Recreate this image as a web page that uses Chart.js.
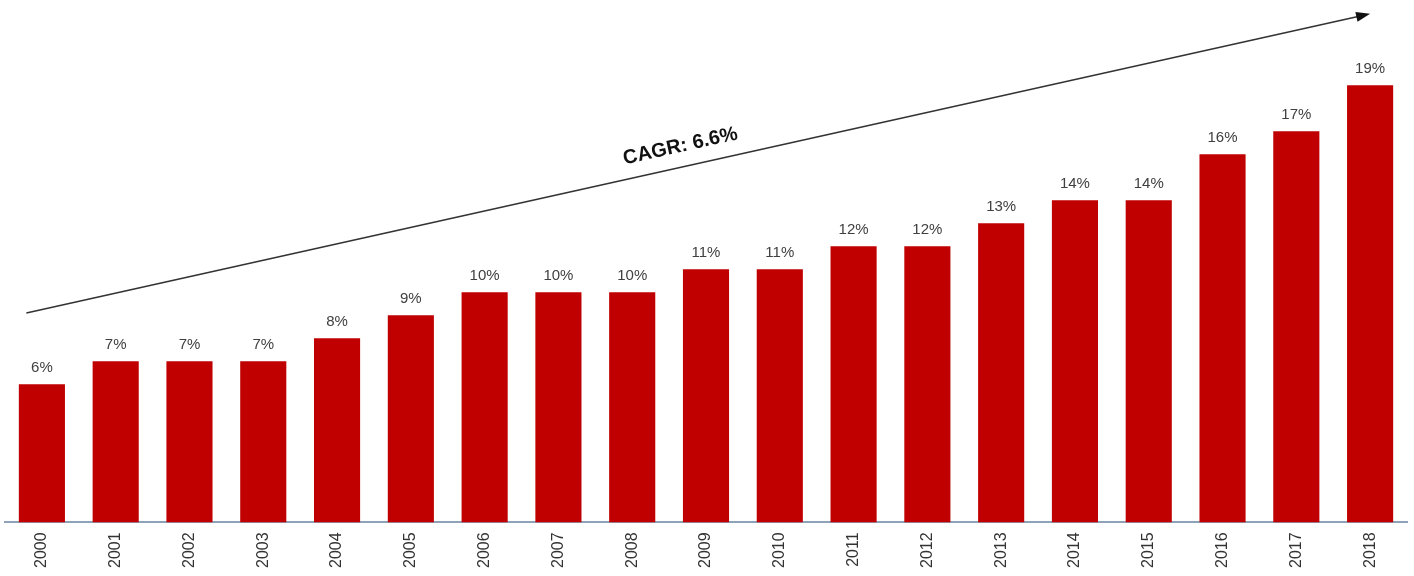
<!DOCTYPE html>
<html>
<head>
<meta charset="utf-8">
<script src="https://cdn.jsdelivr.net/npm/chart.js@4/dist/chart.umd.min.js"></script>
<style>
  html, body { margin: 0; padding: 0; background: #fff; }
  #wrap { width: 1414px; height: 576px; }
</style>
</head>
<body>
<div id="wrap"><canvas id="cagr-chart" width="1414" height="576"></canvas></div>
<script>
const years = ['2000', '2001', '2002', '2003', '2004', '2005', '2006', '2007', '2008', '2009',
  '2010', '2011', '2012', '2013', '2014', '2015', '2016', '2017', '2018'];
const shares = [6, 7, 7, 7, 8, 9, 10, 10, 10, 11, 11, 12, 12, 13, 14, 14, 16, 17, 19];
const cagrLabel = 'CAGR: 6.6%';
// trend arrow ends, in category index / value units
const arrowFrom = [-0.21, 9.1];
const arrowTo = [18, 22.1];

const barLabels = {
  id: 'barLabels',
  afterDatasetsDraw(chart) {
    const ctx = chart.ctx;
    const meta = chart.getDatasetMeta(0);
    ctx.save();
    ctx.font = '15px "Liberation Sans", Arial, sans-serif';
    ctx.fillStyle = '#404040';
    ctx.textAlign = 'center';
    ctx.textBaseline = 'alphabetic';
    meta.data.forEach((bar, i) => {
      ctx.fillText(shares[i] + '%', bar.x, bar.y - 12);
    });
    ctx.restore();
  }
};

const trendArrow = {
  id: 'trendArrow',
  afterDatasetsDraw(chart) {
    const ctx = chart.ctx;
    const xs = chart.scales.x, ys = chart.scales.y;
    const x1 = xs.getPixelForValue(arrowFrom[0]), y1 = ys.getPixelForValue(arrowFrom[1]);
    const x2 = xs.getPixelForValue(arrowTo[0]), y2 = ys.getPixelForValue(arrowTo[1]);
    const ang = Math.atan2(y2 - y1, x2 - x1);
    ctx.save();
    ctx.strokeStyle = '#333';
    ctx.fillStyle = '#111';
    ctx.lineWidth = 1.6;
    ctx.beginPath();
    ctx.moveTo(x1, y1);
    ctx.lineTo(x2 - 10 * Math.cos(ang), y2 - 10 * Math.sin(ang));
    ctx.stroke();
    // head
    ctx.beginPath();
    ctx.moveTo(x2, y2);
    ctx.lineTo(x2 - 14 * Math.cos(ang) + 5 * Math.sin(ang), y2 - 14 * Math.sin(ang) - 5 * Math.cos(ang));
    ctx.lineTo(x2 - 14 * Math.cos(ang) - 5 * Math.sin(ang), y2 - 14 * Math.sin(ang) + 5 * Math.cos(ang));
    ctx.closePath();
    ctx.fill();
    // label along the arrow
    const t = 0.49;
    const mx = x1 + (x2 - x1) * t, my = y1 + (y2 - y1) * t;
    ctx.translate(mx, my);
    ctx.rotate(ang);
    ctx.font = 'bold 20px "Liberation Sans", Arial, sans-serif';
    ctx.fillStyle = '#111';
    ctx.textAlign = 'center';
    ctx.textBaseline = 'alphabetic';
    ctx.fillText(cagrLabel, 0, -15);
    ctx.restore();
  }
};

new Chart(document.getElementById('cagr-chart'), {
  type: 'bar',
  data: {
    labels: years,
    datasets: [
      {
        data: shares,
        backgroundColor: '#c00000',
        borderWidth: 0,
        categoryPercentage: 1,
        barPercentage: 0.625
      }
    ]
  },
  options: {
    responsive: false,
    animation: false,
    layout: {
      padding: { left: 5, right: 7, top: 0, bottom: -2 }
    },
    scales: {
      y: {
        display: false,
        min: 0,
        max: 22.7
      },
      x: {
        grid: { display: false, drawTicks: false },
        border: { color: '#8ea3b8', width: 2 },
        ticks: {
          color: '#333',
          minRotation: 90,
          maxRotation: 90,
          padding: 10,
          font: { family: '"Liberation Sans", Arial, sans-serif', size: 16 }
        }
      }
    },
    plugins: {
      legend: { display: false },
      tooltip: { enabled: false }
    }
  },
  plugins: [barLabels, trendArrow]
});
</script>
</body>
</html>
